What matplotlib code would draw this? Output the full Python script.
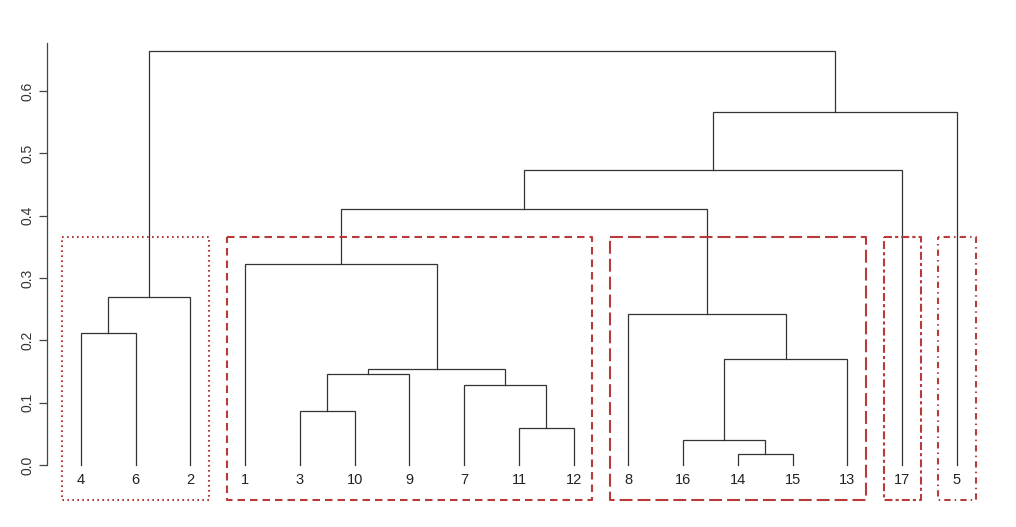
import matplotlib
matplotlib.use('Agg')
import matplotlib.pyplot as plt

plt.rcParams['font.family'] = ['Liberation Sans', 'DejaVu Sans']

# leaves in plotting order (left to right)
leaf_order = [4, 6, 2, 1, 3, 10, 9, 7, 11, 12, 8, 16, 14, 15, 13, 17, 5]

# merges, R hclust style: negative = leaf, positive = earlier merge (1-based)
merge_left = [-14, -16, -11, -3, -7, 4, 6, 2, -4, -8, 9, -1, 12, 13, 14, 11]
merge_right = [-15, 1, -12, -10, 3, -9, 5, -13, -6, 8, -2, 7, 10, -17, -5, 15]
merge_height = [0.0176, 0.0396, 0.0594, 0.086, 0.128, 0.1465, 0.154, 0.1706,
                0.2124, 0.2418, 0.270, 0.3225, 0.410, 0.473, 0.566, 0.664]

# cluster boxes (first and last leaf of each group)
box_groups = [(4, 2), (1, 12), (8, 13), (17, 17), (5, 5)]
box_styles = [(0, (0.8, 1.6)), (0, (3.6, 2.4)), (0, (6.2, 2.4)),
              (0, (3.8, 1.5, 1.5, 1.5)), (0, (0.7, 2.0, 3.0, 2.0))]
box_top = 0.366
box_bottom = -0.056

LINE = '#333333'
BOX = '#b83a3a'

W, H = 1016, 527
fig = plt.figure(figsize=(W / 100, H / 100), dpi=100)
# axes placed in pixel terms
L, R, T, B = 47, 1000, 30, 510
ax = fig.add_axes([L / W, 1 - B / H, (R - L) / W, (B - T) / H])

step = 54.75
ax.set_xlim(1 + (L - 81) / step, 1 + (R - 81) / step)
ax.set_ylim((465 - B) / 623.3, (465 - T) / 623.3)

xpos = {leaf: i + 1 for i, leaf in enumerate(leaf_order)}


def node(ref, mx, mh):
    if ref < 0:
        return xpos[-ref], 0.0
    return mx[ref - 1], mh[ref - 1]


mx = []
for a, b, h in zip(merge_left, merge_right, merge_height):
    xa, ha = node(a, mx, merge_height)
    xb, hb = node(b, mx, merge_height)
    ax.plot([xa, xa, xb, xb], [ha, h, h, hb], color=LINE, lw=0.9,
            solid_joinstyle='miter')
    mx.append((xa + xb) / 2)

for leaf, x in xpos.items():
    ax.text(x, -0.024, str(leaf), ha='center', va='center', fontsize=10.5,
            color='#222222')

for (first, last), ls in zip(box_groups, box_styles):
    x0 = xpos[first] - 0.34
    x1 = xpos[last] + 0.34
    ax.plot([x0, x1, x1, x0, x0],
            [box_top, box_top, box_bottom, box_bottom, box_top],
            color=BOX, lw=1.5, linestyle=ls)

for s in ['top', 'right', 'bottom']:
    ax.spines[s].set_visible(False)
ax.spines['left'].set_bounds(0, 0.677)
ax.spines['left'].set_color('#444444')
ax.spines['left'].set_linewidth(0.9)
ax.set_xticks([])
ax.set_yticks([0.0, 0.1, 0.2, 0.3, 0.4, 0.5, 0.6])
ax.set_yticklabels(['0.0', '0.1', '0.2', '0.3', '0.4', '0.5', '0.6'],
                   rotation=90, va='center', fontsize=10, color='#333333')
ax.tick_params(axis='y', length=6, width=0.9, color='#444444', pad=3)

fig.savefig('out.png', dpi=100)
